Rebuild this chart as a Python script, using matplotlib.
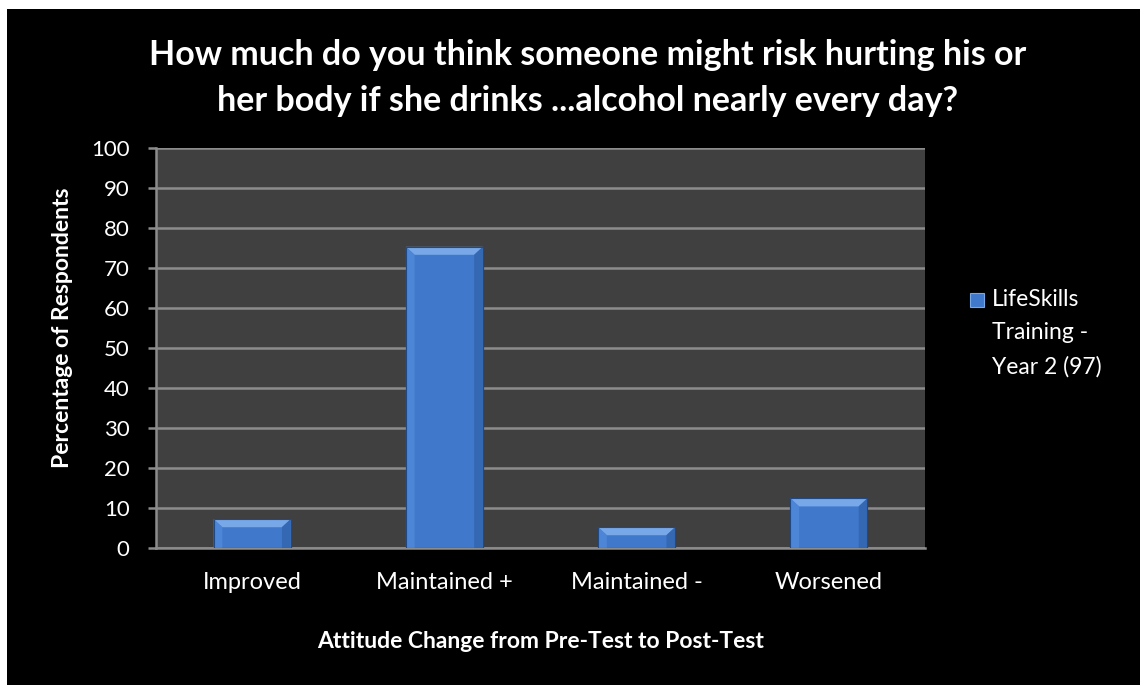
import matplotlib.pyplot as plt
import matplotlib.patches as patches
import numpy as np

categories = ['Improved', 'Maintained +', 'Maintained -', 'Worsened']
values = [7.2, 75.3, 5.2, 12.4]
series_name = 'LifeSkills\nTraining -\nYear 2 (97)'
title = ('How much do you think someone might risk hurting his or\n'
         'her body if she drinks ...alcohol nearly every day?')

plt.rcParams['font.family'] = ['Lato', 'DejaVu Sans']

fig = plt.figure(figsize=(11.4, 6.85), dpi=100, facecolor='black')
# white strips at top and left, like the screenshot
fig.patches.append(patches.Rectangle((0, 1 - 9 / 685), 1, 9 / 685,
                                     transform=fig.transFigure,
                                     facecolor='white', edgecolor='none'))
fig.patches.append(patches.Rectangle((0, 0), 7 / 1140, 1,
                                     transform=fig.transFigure,
                                     facecolor='white', edgecolor='none'))

ax = fig.add_axes([156 / 1140, 1 - 548 / 685, (925 - 156) / 1140, 400 / 685])
ax.set_facecolor('#404040')

x = np.arange(len(categories))
w = 0.4
bars = ax.bar(x, values, width=w, color='#4079cc', edgecolor='#1f4a85',
              linewidth=0.8, zorder=3)

# bevel look
dx = 0.045
dy = 2.0
for b in bars:
    x0 = b.get_x()
    x1 = x0 + b.get_width()
    top = b.get_height()
    d = min(dy, top * 0.4)
    ax.add_patch(patches.Polygon([(x0, top), (x1, top), (x1 - dx, top - d), (x0 + dx, top - d)],
                                 closed=True, facecolor='#78a8e8', edgecolor='none', zorder=4))
    ax.add_patch(patches.Polygon([(x0, 0), (x0, top), (x0 + dx, top - d), (x0 + dx, 0)],
                                 closed=True, facecolor='#4d86d6', edgecolor='none', zorder=4))
    ax.add_patch(patches.Polygon([(x1, 0), (x1, top), (x1 - dx, top - d), (x1 - dx, 0)],
                                 closed=True, facecolor='#3468b3', edgecolor='none', zorder=4))
    ax.add_patch(patches.Rectangle((x0, 0), b.get_width(), top, facecolor='none',
                                   edgecolor='#1f4a85', linewidth=0.8, zorder=5))

ax.set_xlim(-0.5, len(categories) - 0.5)
ax.set_ylim(0, 100)
ax.set_yticks(range(0, 101, 10))
ax.yaxis.grid(True, color='#8c8c8c', linewidth=1.8, zorder=1)
ax.set_axisbelow(True)
ax.set_xticks(x)
ax.set_xticklabels(categories)

for s in ['top', 'right']:
    ax.spines[s].set_visible(False)
ax.spines['left'].set_color('#8c8c8c')
ax.spines['bottom'].set_color('#8c8c8c')
ax.spines['left'].set_linewidth(1.8)
ax.spines['bottom'].set_linewidth(1.8)

ax.tick_params(axis='y', colors='#8c8c8c', labelcolor='white', labelsize=16,
               length=6, width=1.8, pad=13)
ax.tick_params(axis='x', length=0, labelcolor='white', labelsize=17, pad=17)

ax.set_ylabel('Percentage of Respondents', color='white', fontsize=16.5,
              fontweight='bold')
ax.yaxis.set_label_coords(-0.108, 0.55)
ax.set_xlabel('Attitude Change from Pre-Test to Post-Test', color='white',
              fontsize=16.5, fontweight='bold', labelpad=28)

fig.text(588 / 1140, 1 - 78 / 685, title, color='white', fontsize=24.5,
         fontweight='bold', ha='center', va='center', linespacing=1.55)

# legend
fig.patches.append(patches.Rectangle((970 / 1140, 1 - 307 / 685), 14 / 1140, 14 / 685,
                                     transform=fig.transFigure, facecolor='#4079cc',
                                     edgecolor='#78a8e8', linewidth=0.8))
fig.text(992 / 1140, 1 - 289 / 685, series_name, color='white', fontsize=16.5,
         ha='left', va='top', linespacing=1.72)

fig.savefig('out.png', dpi=100, facecolor=fig.get_facecolor())
